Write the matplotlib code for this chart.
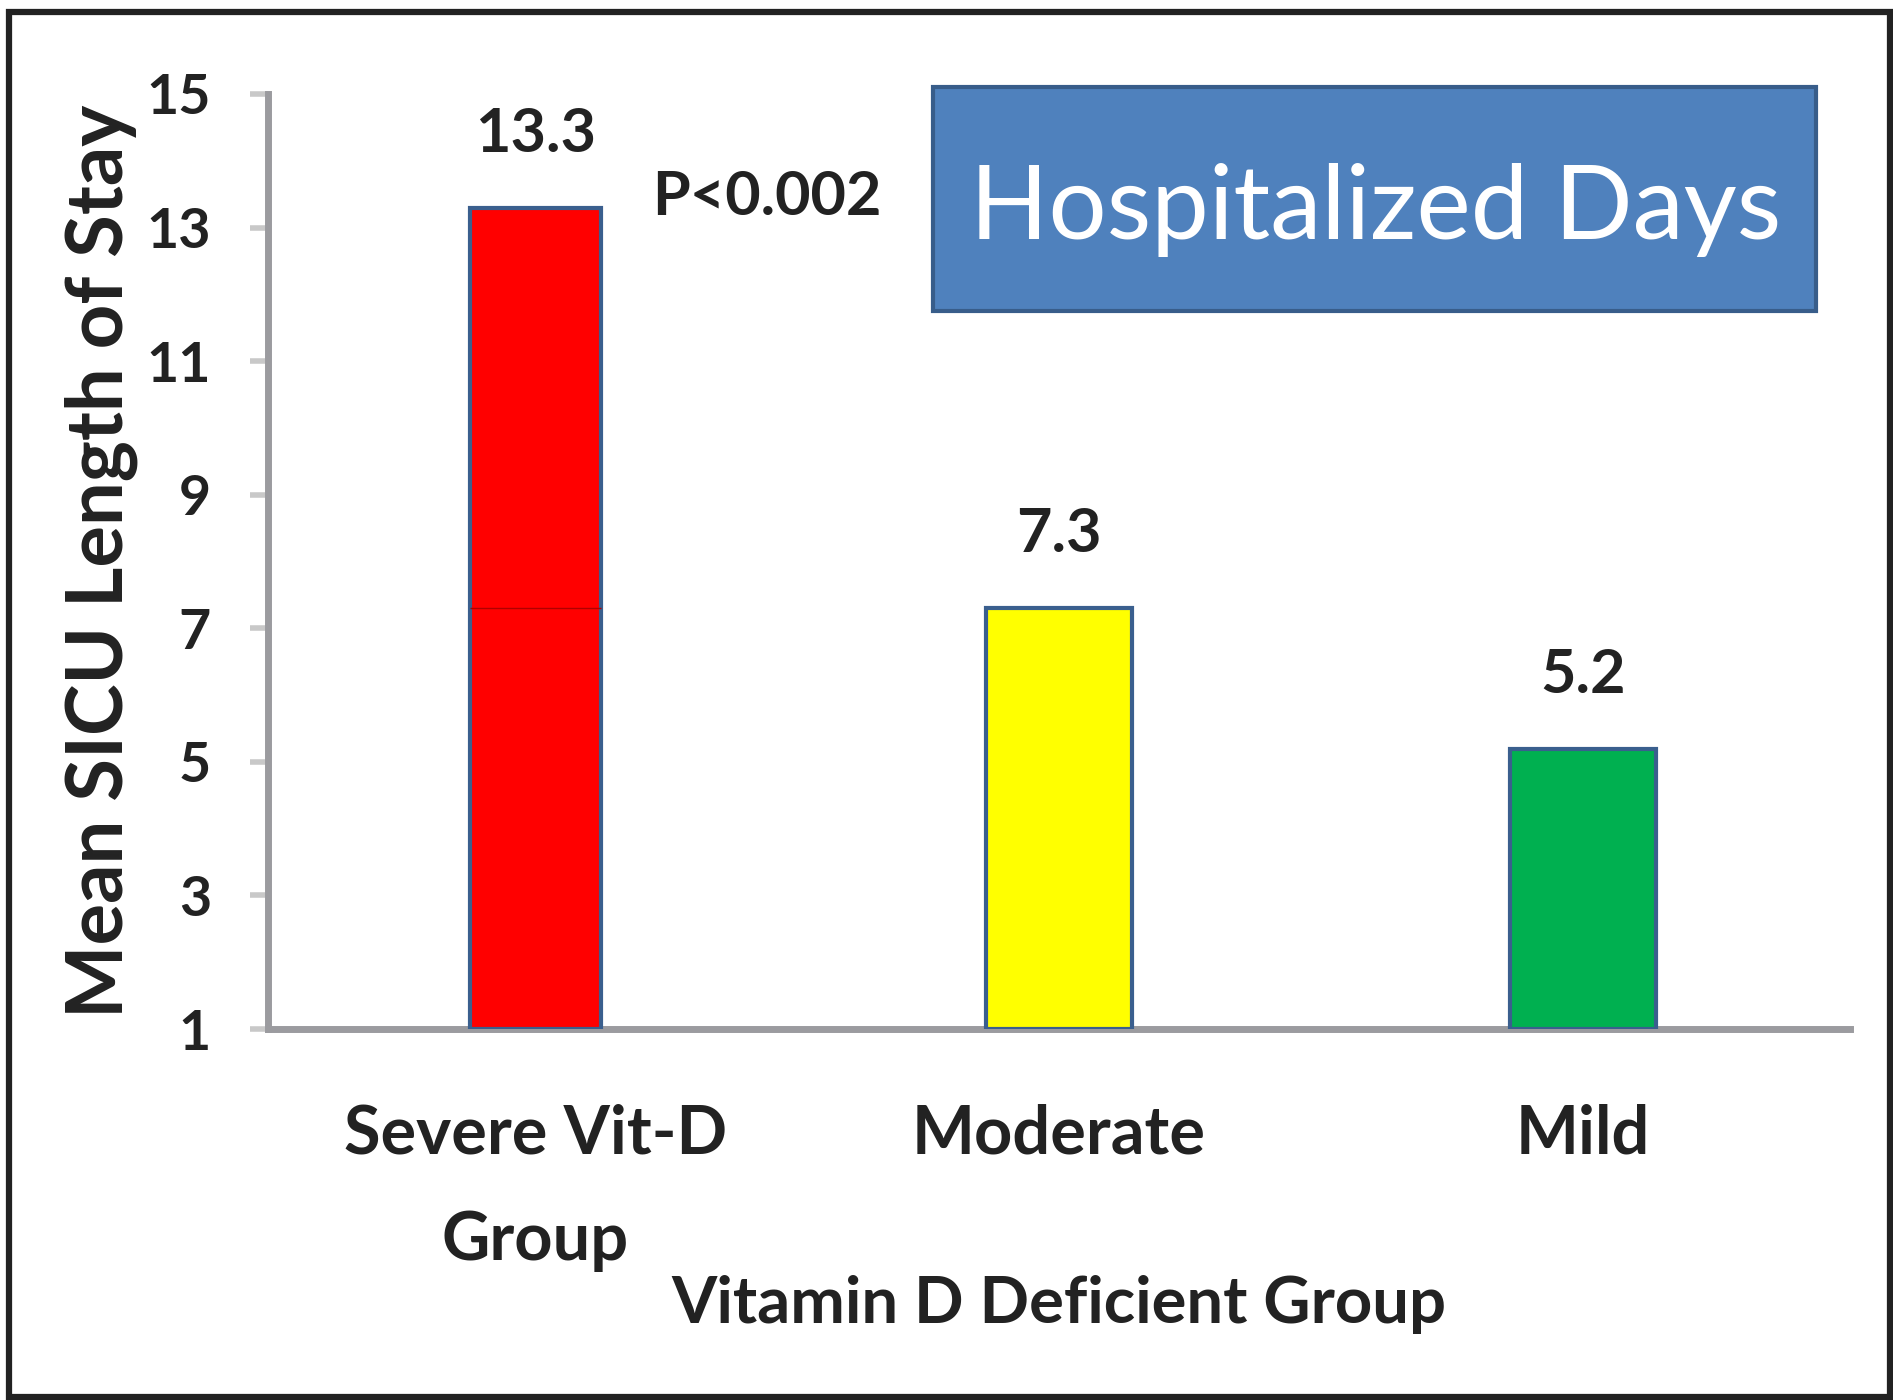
import numpy as np
import matplotlib.pyplot as plt
from matplotlib.patches import Rectangle

groups = ["Severe Vit-D\nGroup", "Moderate", "Mild"]
los_days = [13.3, 7.3, 5.2]
bar_colors = ["#FF0000", "#FFFF00", "#00B050"]
bar_widths = [0.25, 0.28, 0.28]
y_ticks = [1, 3, 5, 7, 9, 11, 13, 15]
p_text = "P<0.002"
box_title = "Hospitalized Days"

plt.rcParams['font.family'] = ['Lato', 'DejaVu Sans']
W, H = 1893, 1400

fig = plt.figure(figsize=(W / 100, H / 100), dpi=100)
ax = fig.add_axes([268 / W, 1 - 1029 / H, (1850 - 268) / W, (1029 - 94) / H])

x = np.arange(len(groups))
base = y_ticks[0]
bars = ax.bar(x, np.array(los_days) - base, bottom=base, width=bar_widths,
              color=bar_colors, edgecolor="#3A5F8E", linewidth=3, zorder=3)
# faint line left inside the red bar in the original
ax.hlines(los_days[1], x[0] - bar_widths[0] / 2, x[0] + bar_widths[0] / 2,
          color="#B00000", lw=1, zorder=4)

for xi, v in zip(x, los_days):
    ax.annotate(f"{v}", (xi, v), xytext=(0, 33), textcoords="offset points",
                ha="center", va="bottom", fontsize=44, fontweight="bold",
                color="#222222")

ax.set_xlim(-0.51, 2.51)
ax.set_ylim(1, 15)
ax.set_yticks(y_ticks)
ax.set_xticks(x)
ax.set_xticklabels(groups, fontsize=48, fontweight="bold", color="#222222",
                   linespacing=1.88)
ax.tick_params(axis="x", length=0, pad=54)
ax.tick_params(axis="y", length=13, width=4, color="#C8C8C8", pad=28,
               labelsize=40, labelcolor="#222222")
for lab in ax.get_yticklabels():
    lab.set_fontweight("bold")

for s in ["top", "right"]:
    ax.spines[s].set_visible(False)
for s in ["left", "bottom"]:
    ax.spines[s].set_color("#9B9B9F")
    ax.spines[s].set_linewidth(5)
    ax.spines[s].set_zorder(2)

ax.set_ylabel("Mean SICU Length of Stay", fontsize=56, fontweight="bold",
              color="#222222", labelpad=6)

fig.text(1059 / W, 1 - 1304 / H, "Vitamin D Deficient Group", fontsize=47,
         fontweight="bold", color="#222222", ha="center", va="center")

fig.text(652 / W, 1 - 197 / H, p_text, fontsize=44, fontweight="bold",
         color="#222222", ha="left", va="center")

box = Rectangle((933 / W, 1 - 311 / H), (1816 - 933) / W, (311 - 87) / H,
                transform=fig.transFigure, facecolor="#4F81BD", edgecolor="#385D8A",
                linewidth=3, zorder=0)
fig.add_artist(box)
fig.text(1376 / W, 1 - 210 / H, box_title, fontsize=74, color="white",
         ha="center", va="center", zorder=1)
ax.set_zorder(1)
ax.patch.set_alpha(0)

frame = Rectangle((9 / W, 3 / H), 1881 / W, 1385 / H,
                  transform=fig.transFigure, fill=False, edgecolor="#222222",
                  linewidth=4.5)
fig.add_artist(frame)

fig.savefig("out.png", dpi=100)
